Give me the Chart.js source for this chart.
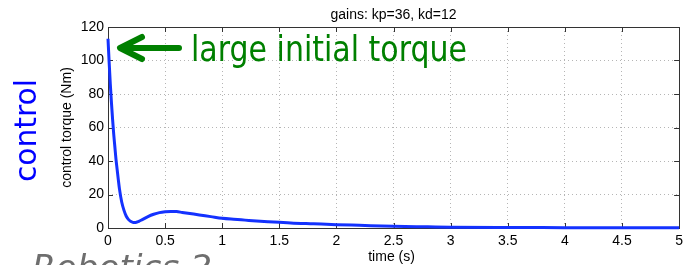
<!DOCTYPE html>
<html>
<head>
<meta charset="utf-8">
<script src="https://cdn.jsdelivr.net/npm/chart.js@4"></script>
<style>
  html, body { margin: 0; padding: 0; background: #fff; }
  #wrap { width: 688px; height: 265px; position: relative; }
</style>
</head>
<body>
<div id="wrap"><canvas id="chart-torque" width="688" height="265"></canvas></div>
<script>
// time samples (s) and control torque (Nm)
const timeS = [0, 0.01, 0.02, 0.03, 0.04, 0.05, 0.06, 0.07, 0.08, 0.09, 0.1, 0.12, 0.14, 0.16, 0.18, 0.2,
  0.22, 0.24, 0.27, 0.3, 0.35, 0.4, 0.45, 0.5, 0.55, 0.6, 0.65, 0.7, 0.8, 0.9, 1.0, 1.1, 1.2, 1.3, 1.4,
  1.5, 1.6, 1.8, 2.0, 2.2, 2.5, 2.8, 3.0, 3.5, 4.0, 4.5, 5.0];
const torqueNm = [113, 99, 86, 75, 65, 56, 48.5, 41, 35, 29, 23.5, 15.5, 10.5, 7, 5, 3.9,
  3.3, 3.3, 4, 5, 6.8, 8.2, 9.2, 9.7, 9.9, 9.8, 9.3, 8.8, 7.8, 6.8, 5.8, 5.2, 4.7, 4.2, 3.8,
  3.4, 3.0, 2.5, 2.0, 1.6, 1.0, 0.7, 0.5, 0.3, 0.2, 0.1, 0.1];
const xTicks = [0, 0.5, 1, 1.5, 2, 2.5, 3, 3.5, 4, 4.5, 5];
const yTicks = [0, 20, 40, 60, 80, 100, 120];

const plotTitle = "gains: kp=36, kd=12";
const xTitle = "time (s)";
const yTitle = "control torque (Nm)";
const sideNote = "control";
const arrowNote = "large initial torque";
const footNote = "Robotics 2";

const tickFont = '14px "Liberation Sans", Arial, sans-serif';

// draw text squeezed/stretched horizontally to a target width
function fitText(ctx, text, font, x, y, width) {
  ctx.font = font;
  const w = ctx.measureText(text).width;
  ctx.save();
  ctx.translate(x, y);
  ctx.scale(width / w, 1);
  ctx.fillText(text, 0, 0);
  ctx.restore();
}

const framePlugin = {
  id: "frame",
  beforeDatasetsDraw(chart) {
    const ctx = chart.ctx;
    const a = chart.chartArea;
    const xs = chart.scales.x;
    const ys = chart.scales.y;
    ctx.save();
    ctx.strokeStyle = "#333";
    ctx.lineWidth = 1;
    ctx.beginPath();
    xTicks.forEach((v) => {
      const px = Math.round(xs.getPixelForValue(v)) + 0.5;
      ctx.moveTo(px, a.bottom);
      ctx.lineTo(px, a.bottom - 5);
      ctx.moveTo(px, a.top);
      ctx.lineTo(px, a.top + 5);
    });
    yTicks.forEach((v) => {
      const py = Math.round(ys.getPixelForValue(v)) + 0.5;
      ctx.moveTo(a.left, py);
      ctx.lineTo(a.left + 5, py);
      ctx.moveTo(a.right, py);
      ctx.lineTo(a.right - 5, py);
    });
    ctx.stroke();
    ctx.strokeRect(Math.round(a.left) + 0.5, Math.round(a.top) + 0.5,
      Math.round(a.right - a.left), Math.round(a.bottom - a.top));
    ctx.restore();
  },
  afterDraw(chart) {
    const ctx = chart.ctx;
    const a = chart.chartArea;
    const cx = (a.left + a.right) / 2;
    ctx.save();
    ctx.fillStyle = "#000";
    ctx.font = tickFont;
    ctx.textAlign = "center";
    ctx.textBaseline = "alphabetic";
    ctx.fillText(plotTitle, cx, 19);
    ctx.fillText(xTitle, cx - 2, 261);
    ctx.save();
    ctx.translate(71, (a.top + a.bottom) / 2);
    ctx.rotate(-Math.PI / 2);
    ctx.fillText(yTitle, 0, 0);
    ctx.restore();

    // blue side note
    ctx.fillStyle = "#0000ff";
    ctx.textAlign = "left";
    ctx.save();
    ctx.translate(36, 182);
    ctx.rotate(-Math.PI / 2);
    fitText(ctx, sideNote, '30px "DejaVu Sans", sans-serif', 0, 0, 103);
    ctx.restore();

    // green arrow + note
    ctx.strokeStyle = "#008000";
    ctx.fillStyle = "#008000";
    ctx.lineWidth = 6;
    ctx.lineCap = "round";
    ctx.lineJoin = "round";
    ctx.beginPath();
    ctx.moveTo(179, 48);
    ctx.lineTo(121, 48);
    ctx.moveTo(142, 37);
    ctx.lineTo(120, 48);
    ctx.lineTo(142, 59);
    ctx.stroke();
    fitText(ctx, arrowNote, '36px "DejaVu Sans", sans-serif', 191, 61, 276);

    // grey footer, cut by the bottom edge
    ctx.fillStyle = "#6e6e6e";
    fitText(ctx, footNote, 'italic 34px "DejaVu Sans", sans-serif', 32, 279, 180);
    ctx.restore();
  },
};

const ctx = document.getElementById("chart-torque").getContext("2d");
const torqueChart = new Chart(ctx, {
  type: "line",
  data: {
    datasets: [
      {
        label: "control torque",
        data: timeS.map((t, i) => ({ x: t, y: torqueNm[i] })),
        borderColor: "rgb(20, 50, 255)",
        borderWidth: 3,
        pointRadius: 0,
        fill: false,
        cubicInterpolationMode: "monotone",
        clip: false,
      },
    ],
  },
  options: {
    responsive: false,
    animation: false,
    layout: { padding: { top: 27, right: 5, left: 0, bottom: 0 } },
    plugins: {
      legend: { display: false },
      tooltip: { enabled: false },
      title: { display: false },
    },
    scales: {
      x: {
        type: "linear",
        min: 0,
        max: 5,
        afterBuildTicks: (scale) => {
          scale.ticks = xTicks.map((v) => ({ value: v }));
        },
        afterFit: (scale) => {
          scale.height = 37;
        },
        ticks: {
          color: "#000",
          font: { family: '"Liberation Sans", Arial, sans-serif', size: 14 },
          padding: 5,
          maxRotation: 0,
          callback: (v) => String(v),
        },
        grid: { color: "#b5b5b5", drawTicks: false, lineWidth: 1 },
        border: { display: false, dash: [1, 3] },
      },
      y: {
        type: "linear",
        min: 0,
        max: 120,
        afterBuildTicks: (scale) => {
          scale.ticks = yTicks.map((v) => ({ value: v }));
        },
        afterFit: (scale) => {
          scale.width = 108;
        },
        ticks: {
          color: "#000",
          font: { family: '"Liberation Sans", Arial, sans-serif', size: 14 },
          padding: 4,
          callback: (v) => String(v),
        },
        grid: { color: "#b5b5b5", drawTicks: false, lineWidth: 1 },
        border: { display: false, dash: [1, 3] },
      },
    },
  },
  plugins: [framePlugin],
});
</script>
</body>
</html>
